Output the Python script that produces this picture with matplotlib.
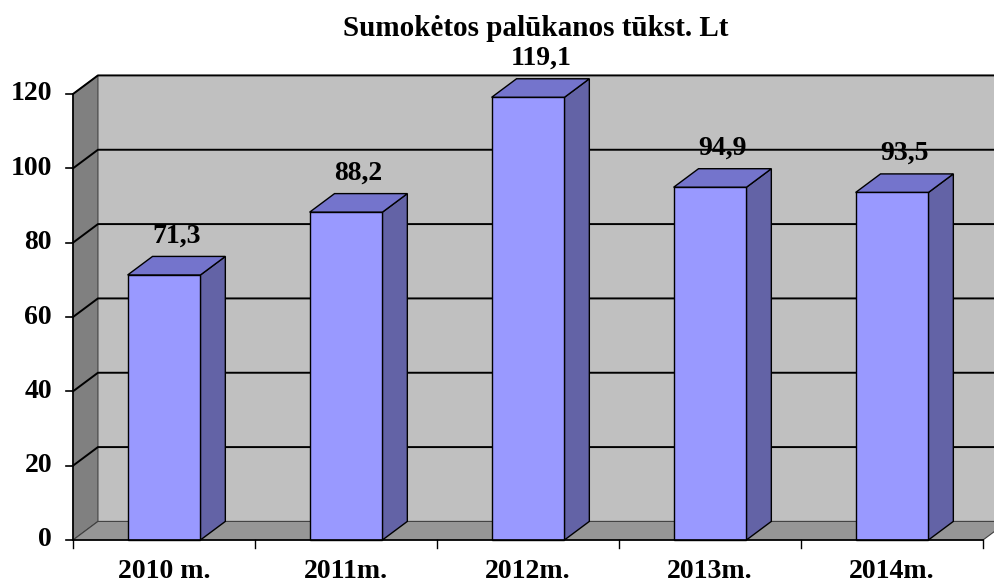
import matplotlib.pyplot as plt
from matplotlib.patches import Polygon, Rectangle

metai = ['2010 m.', '2011m.', '2012m.', '2013m.', '2014m.']
palukanos = [71.3, 88.2, 119.1, 94.9, 93.5]
zymes = ['71,3', '88,2', '119,1', '94,9', '93,5']
y_ticks = [0, 20, 40, 60, 80, 100, 120]

plt.rcParams['font.family'] = ['Liberation Serif', 'DejaVu Serif']
plt.rcParams['font.weight'] = 'bold'

fig = plt.figure(figsize=(9.95, 5.84), dpi=100)
ax = fig.add_axes([73 / 995, 44 / 584, 910 / 995, 446 / 584])
ax.set_xlim(0, 5)
ax.set_ylim(0, 120)
ax.axis('off')

# gylis (3D poslinkis) duomenu vienetais
dx, dy = 0.137, 5.0
right = 5.3

# galine siena, sonine siena, grindys
ax.add_patch(Polygon([(dx, dy), (right, dy), (right, 120 + dy), (dx, 120 + dy)],
                     closed=True, facecolor='#c0c0c0', edgecolor='none', clip_on=False, zorder=1))
ax.add_patch(Polygon([(0, 0), (dx, dy), (dx, 120 + dy), (0, 120)],
                     closed=True, facecolor='#808080', edgecolor='#404040', lw=0.8, clip_on=False, zorder=1))
ax.add_patch(Polygon([(0, 0), (5, 0), (5 + dx, dy), (dx, dy)],
                     closed=True, facecolor='#969696', edgecolor='#404040', lw=0.8, clip_on=False, zorder=1))

for t in y_ticks:
    if t > 0:
        ax.plot([0, dx, right], [t, t + dy, t + dy], color='black', lw=1.4, clip_on=False, zorder=2)

# asys
ax.plot([0, 0], [0, 120], color='black', lw=1.2, clip_on=False, zorder=5)
ax.plot([0, 5], [0, 0], color='black', lw=1.2, clip_on=False, zorder=5)
for t in y_ticks:
    ax.plot([-0.04, 0], [t, t], color='black', lw=1.2, clip_on=False, zorder=5)
    ax.text(-0.115, t, str(t), ha='right', va='center', fontsize=20, fontweight='bold')
for i in range(6):
    ax.plot([i, i], [0, -2.2], color='black', lw=1.0, clip_on=False, zorder=5)

# stulpeliai
w = 0.4
for i, v in enumerate(palukanos):
    x0 = i + 0.5 - w / 2
    x1 = x0 + w
    ax.add_patch(Polygon([(x1, 0), (x1 + dx, dy), (x1 + dx, v + dy), (x1, v)],
                         closed=True, facecolor='#6363a6', edgecolor='black', lw=1.0,
                         clip_on=False, zorder=3))
    ax.add_patch(Polygon([(x0, v), (x1, v), (x1 + dx, v + dy), (x0 + dx, v + dy)],
                         closed=True, facecolor='#7474cc', edgecolor='black', lw=1.0,
                         clip_on=False, zorder=3))
    ax.add_patch(Rectangle((x0, 0), w, v, facecolor='#9999ff', edgecolor='black', lw=1.0,
                           clip_on=False, zorder=4))
    ax.text(i + 0.5 + 0.07, v + 10.5, zymes[i], ha='center', va='center',
            fontsize=20, fontweight='bold', zorder=6)
    ax.text(i + 0.5, -8.6, metai[i], ha='center', va='center', fontsize=20, fontweight='bold')

fig.text(536 / 995, 1 - 28 / 584, 'Sumokėtos palūkanos tūkst. Lt', ha='center', va='center',
         fontsize=21, fontweight='bold')

fig.savefig('out.png', dpi=100)
